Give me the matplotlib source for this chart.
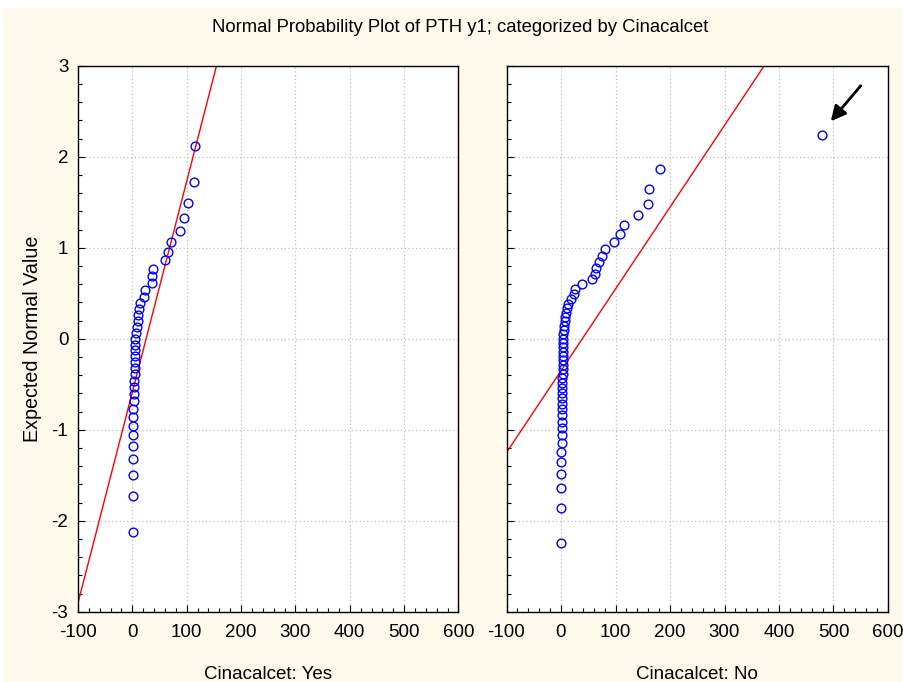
import numpy as np
import matplotlib
matplotlib.use("Agg")
import matplotlib.pyplot as plt
from matplotlib.patches import Rectangle
from matplotlib.ticker import AutoMinorLocator
from statistics import NormalDist

plt.rcParams['font.family'] = ['Liberation Sans', 'DejaVu Sans']
plt.rcParams['axes.unicode_minus'] = False

title = "Normal Probability Plot of PTH y1; categorized by Cinacalcet"
ylabel = "Expected Normal Value"
panel_labels = ["Cinacalcet: Yes", "Cinacalcet: No"]

# PTH y1 values (sorted descending)
pth_yes = [116, 114, 103, 95, 87, 71, 65, 60, 38, 37, 36, 23, 22, 14, 12, 10, 9.5, 9, 7.5,
           5.7, 5.5, 5, 5, 4.5, 4, 4, 3.5, 3, 3, 2.5, 2, 2, 1.8, 1.5, 1.5, 1.2, 1, 1, 0.5]
pth_no = [478, 182, 162, 160, 141, 116, 108, 97, 81, 75, 69, 65, 63, 57, 38, 26, 23, 18, 13,
          10.5, 9, 7.3, 7, 5.5, 5.5, 4.2, 4.2, 4, 3.8, 3.5, 3.5, 3.2, 3, 3, 2.8, 2.5, 2.5,
          2.2, 2, 2, 1.8, 1.5, 1.5, 1.2, 1.2, 1, 1, 0.8, 0.8, 0.5, 0.5, 0.3, 0.2]

xticks = [-100, 0, 100, 200, 300, 400, 500, 600]
yticks = [-3, -2, -1, 0, 1, 2, 3]
# arrow pointing at the outlier (data coords of the right panel)
arrow_tail = (550, 2.78)
arrow_head = (495, 2.39)


def expected_normal(values):
    x = np.sort(np.asarray(values, dtype=float))
    n = len(x)
    j = np.arange(1, n + 1)
    nd = NormalDist()
    z = np.array([nd.inv_cdf((3 * k - 1) / (3 * n + 1)) for k in j])
    return x, z


W, H = 904, 682
fig = plt.figure(figsize=(W / 100, H / 100), dpi=100, facecolor='white')
fig.patches.append(Rectangle((3 / W, 0), 1 - 6 / W, 1 - 8 / H, transform=fig.transFigure,
                             facecolor='#fff9ec', edgecolor='none', zorder=-10))

axL = fig.add_axes([78 / W, 1 - 611.7 / H, 380.5 / W, 546 / H])
axR = fig.add_axes([506.5 / W, 1 - 611.7 / H, 381.5 / W, 546 / H])

FS = 13.5
for ax, vals, lab in [(axL, pth_yes, panel_labels[0]), (axR, pth_no, panel_labels[1])]:
    x, z = expected_normal(vals)
    slope, icpt = np.polyfit(x, z, 1)
    xs = np.array([-100, 600])
    ax.plot(xs, slope * xs + icpt, color='red', lw=1.0, zorder=2)
    ax.plot(x, z, 'o', mfc='none', mec='#0000ff', ms=6.3, mew=1.0, zorder=3)
    ax.set_xlim(-100, 600)
    ax.set_ylim(-3, 3)
    ax.set_xticks(xticks)
    ax.set_yticks(yticks)
    ax.xaxis.set_minor_locator(AutoMinorLocator(5))
    ax.yaxis.set_minor_locator(AutoMinorLocator(5))
    ax.grid(True, which='major', color='#c0c0c0', linestyle=(0, (1, 2)), lw=0.9)
    ax.tick_params(which='major', direction='in', length=5, width=0.8, labelsize=FS)
    ax.tick_params(axis='x', which='major', pad=9)
    ax.tick_params(axis='y', which='major', pad=7)
    ax.tick_params(which='minor', direction='in', length=3, width=0.8)
    ax.set_facecolor('white')
    for s in ax.spines.values():
        s.set_linewidth(1.0)
        s.set_color('black')
    ax.set_xlabel(lab, fontsize=FS, labelpad=18)

axR.tick_params(axis='y', labelleft=False)
axL.set_ylabel(ylabel, fontsize=14.2, labelpad=7)

axR.annotate('', xy=arrow_head, xytext=arrow_tail,
             arrowprops=dict(arrowstyle='-|>,head_length=0.9,head_width=0.45', color='black',
                             lw=2.0, shrinkA=0, shrinkB=0))

fig.text(460 / W, 1 - 28 / H, title, ha='center', va='center', fontsize=13.3)

fig.savefig('out.png', dpi=100, facecolor=fig.get_facecolor())
